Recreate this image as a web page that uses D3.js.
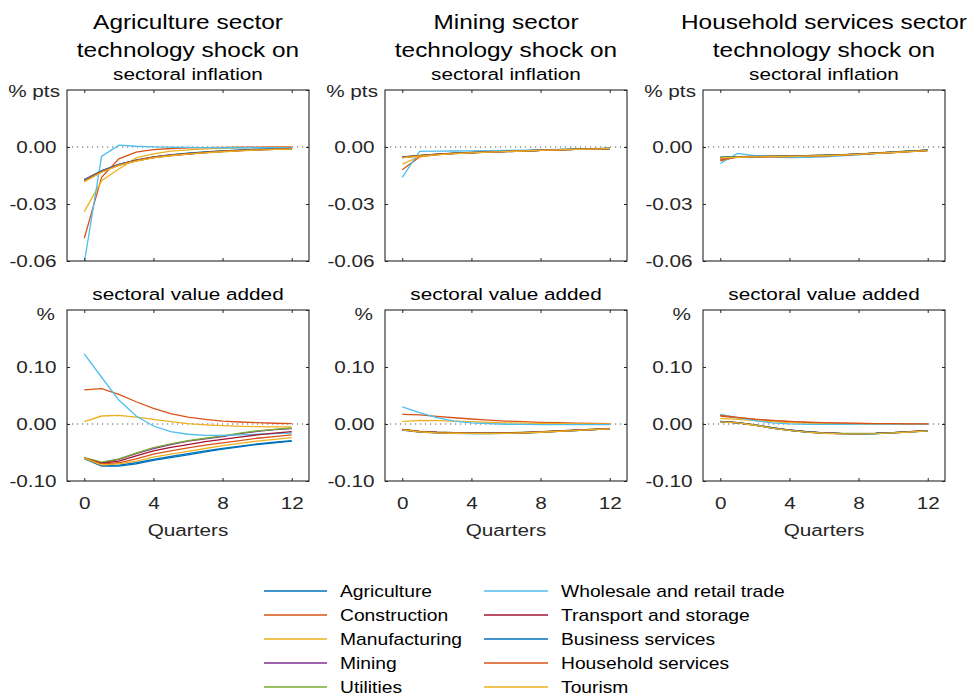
<!DOCTYPE html>
<html>
<head>
<meta charset="utf-8">
<script src="https://cdn.jsdelivr.net/npm/d3@7"></script>
<style>
  body { margin: 0; background: #fff; }
  text { font-family: "Liberation Sans", Arial, Helvetica, sans-serif; fill: #262626; }
</style>
</head>
<body>
<svg id="chart"></svg>
<script>
// ---------------- data ----------------
const quarters = [0,1,2,3,4,5,6,7,8,9,10,11,12];
const sectors = ["Agriculture","Construction","Manufacturing","Mining","Utilities",
  "Wholesale and retail trade","Transport and storage","Business services","Household services","Tourism"];
const colors = ["#0072BD","#D95319","#EDB120","#7E2F8E","#77AC30","#4DBEEE","#A2142F","#0072BD","#D95319","#EDB120"];
const shocks = ["Agriculture sector","Mining sector","Household services sector"];
const xTicks = [0,4,8,12];
const inflTicks = [-0.06,-0.03,0,0.03];
const vaTicks = [-0.1,0,0.1,0.2];

// inflation responses (% pts), one row per sector
const infAgri = [
  [-0.0178,-0.0130,-0.0095,-0.0072,-0.0055,-0.0044,-0.0036,-0.0029,-0.0023,-0.0019,-0.0015,-0.0012,-0.0010],
  [-0.0480,-0.0160,-0.0062,-0.0027,-0.0014,-0.0008,-0.0005,-0.0003,-0.0002,-0.0001,-0.0001,0.0000,0.0000],
  [-0.0340,-0.0178,-0.0116,-0.0057,-0.0036,-0.0022,-0.0015,-0.0010,-0.0007,-0.0005,-0.0003,-0.0002,-0.0001],
  [-0.0172,-0.0126,-0.0092,-0.0070,-0.0053,-0.0042,-0.0035,-0.0028,-0.0022,-0.0018,-0.0014,-0.0011,-0.0009],
  [-0.0176,-0.0127,-0.0093,-0.0070,-0.0053,-0.0042,-0.0034,-0.0027,-0.0021,-0.0017,-0.0013,-0.0010,-0.0008],
  [-0.0610,-0.0050,0.0010,0.0004,0.0001,-0.0001,-0.0002,-0.0003,-0.0004,-0.0004,-0.0004,-0.0004,-0.0004],
  [-0.0180,-0.0131,-0.0096,-0.0073,-0.0056,-0.0045,-0.0037,-0.0030,-0.0024,-0.0019,-0.0015,-0.0012,-0.0010],
  [-0.0174,-0.0125,-0.0091,-0.0069,-0.0052,-0.0041,-0.0033,-0.0026,-0.0020,-0.0016,-0.0012,-0.0010,-0.0008],
  [-0.0178,-0.0129,-0.0094,-0.0071,-0.0054,-0.0043,-0.0035,-0.0028,-0.0022,-0.0018,-0.0014,-0.0011,-0.0009],
  [-0.0182,-0.0133,-0.0097,-0.0074,-0.0057,-0.0046,-0.0038,-0.0031,-0.0025,-0.0020,-0.0016,-0.0013,-0.0011]
];
const infMin = [
  [-0.0055,-0.0046,-0.0039,-0.0034,-0.0030,-0.0027,-0.0024,-0.0021,-0.0018,-0.0015,-0.0013,-0.0011,-0.0009],
  [-0.0120,-0.0052,-0.0040,-0.0034,-0.0030,-0.0026,-0.0023,-0.0020,-0.0017,-0.0014,-0.0012,-0.0010,-0.0008],
  [-0.0090,-0.0050,-0.0040,-0.0034,-0.0029,-0.0026,-0.0023,-0.0020,-0.0017,-0.0014,-0.0012,-0.0010,-0.0008],
  [-0.0052,-0.0045,-0.0038,-0.0033,-0.0029,-0.0026,-0.0023,-0.0020,-0.0017,-0.0014,-0.0012,-0.0010,-0.0008],
  [-0.0053,-0.0044,-0.0038,-0.0033,-0.0029,-0.0025,-0.0022,-0.0019,-0.0016,-0.0014,-0.0011,-0.0009,-0.0008],
  [-0.0160,-0.0023,-0.0022,-0.0021,-0.0020,-0.0019,-0.0018,-0.0016,-0.0015,-0.0013,-0.0011,-0.0009,-0.0008],
  [-0.0056,-0.0047,-0.0040,-0.0035,-0.0031,-0.0027,-0.0024,-0.0021,-0.0018,-0.0015,-0.0013,-0.0011,-0.0009],
  [-0.0054,-0.0045,-0.0039,-0.0034,-0.0030,-0.0026,-0.0023,-0.0020,-0.0017,-0.0014,-0.0012,-0.0010,-0.0008],
  [-0.0055,-0.0046,-0.0039,-0.0034,-0.0030,-0.0026,-0.0023,-0.0020,-0.0017,-0.0015,-0.0012,-0.0010,-0.0009],
  [-0.0057,-0.0048,-0.0041,-0.0035,-0.0031,-0.0027,-0.0024,-0.0021,-0.0018,-0.0015,-0.0013,-0.0011,-0.0009]
];
const infHou = [
  [-0.0056,-0.0053,-0.0051,-0.0050,-0.0049,-0.0047,-0.0045,-0.0042,-0.0038,-0.0033,-0.0028,-0.0023,-0.0018],
  [-0.0073,-0.0052,-0.0050,-0.0049,-0.0048,-0.0046,-0.0044,-0.0041,-0.0037,-0.0032,-0.0027,-0.0022,-0.0017],
  [-0.0065,-0.0051,-0.0050,-0.0049,-0.0048,-0.0046,-0.0044,-0.0041,-0.0037,-0.0032,-0.0027,-0.0022,-0.0017],
  [-0.0055,-0.0052,-0.0050,-0.0049,-0.0048,-0.0046,-0.0044,-0.0041,-0.0037,-0.0032,-0.0027,-0.0022,-0.0017],
  [-0.0054,-0.0051,-0.0049,-0.0048,-0.0047,-0.0045,-0.0043,-0.0040,-0.0036,-0.0031,-0.0026,-0.0021,-0.0016],
  [-0.0087,-0.0034,-0.0045,-0.0052,-0.0056,-0.0055,-0.0052,-0.0047,-0.0041,-0.0035,-0.0029,-0.0023,-0.0017],
  [-0.0057,-0.0054,-0.0052,-0.0051,-0.0050,-0.0048,-0.0046,-0.0043,-0.0039,-0.0034,-0.0029,-0.0024,-0.0019],
  [-0.0055,-0.0052,-0.0050,-0.0049,-0.0048,-0.0046,-0.0044,-0.0041,-0.0037,-0.0032,-0.0027,-0.0022,-0.0017],
  [-0.0068,-0.0053,-0.0051,-0.0050,-0.0049,-0.0047,-0.0045,-0.0042,-0.0038,-0.0033,-0.0028,-0.0023,-0.0018],
  [-0.0057,-0.0054,-0.0052,-0.0051,-0.0050,-0.0048,-0.0046,-0.0043,-0.0039,-0.0034,-0.0029,-0.0024,-0.0019]
];

// value added responses (%), one row per sector
const vaAgri = [
  [-0.061,-0.074,-0.074,-0.070,-0.064,-0.059,-0.054,-0.049,-0.044,-0.040,-0.036,-0.033,-0.030],
  [0.060,0.062,0.052,0.039,0.0275,0.018,0.012,0.008,0.005,0.0035,0.0023,0.0013,0.0006],
  [0.004,0.014,0.015,0.012,0.008,0.004,0.0006,-0.0015,-0.003,-0.004,-0.0047,-0.005,-0.005],
  [-0.060,-0.068,-0.062,-0.052,-0.043,-0.036,-0.030,-0.026,-0.022,-0.017,-0.013,-0.010,-0.008],
  [-0.059,-0.067,-0.061,-0.051,-0.0415,-0.035,-0.029,-0.025,-0.021,-0.016,-0.012,-0.0095,-0.007],
  [0.123,0.082,0.042,0.014,-0.0035,-0.0135,-0.018,-0.020,-0.020,-0.019,-0.018,-0.017,-0.016],
  [-0.060,-0.069,-0.065,-0.056,-0.047,-0.041,-0.036,-0.031,-0.027,-0.023,-0.019,-0.016,-0.0135],
  [-0.060,-0.073,-0.072,-0.068,-0.062,-0.057,-0.052,-0.047,-0.043,-0.039,-0.035,-0.032,-0.029],
  [-0.060,-0.070,-0.068,-0.061,-0.053,-0.047,-0.042,-0.037,-0.033,-0.029,-0.025,-0.022,-0.019],
  [-0.060,-0.072,-0.070,-0.065,-0.058,-0.053,-0.048,-0.043,-0.038,-0.034,-0.030,-0.027,-0.024]
];
const vaMin = [
  [-0.0105,-0.0140,-0.0155,-0.0163,-0.0167,-0.0168,-0.0166,-0.0158,-0.0145,-0.0130,-0.0115,-0.0100,-0.0087],
  [0.0170,0.0160,0.0135,0.0110,0.0088,0.0068,0.0052,0.0040,0.0030,0.0022,0.0015,0.0010,0.0006],
  [0.0040,0.0065,0.0060,0.0050,0.0040,0.0030,0.0021,0.0015,0.0010,0.0006,0.0003,0.0001,0.0000],
  [-0.0095,-0.0130,-0.0145,-0.0153,-0.0157,-0.0158,-0.0156,-0.0149,-0.0137,-0.0123,-0.0109,-0.0094,-0.0080],
  [-0.0095,-0.0128,-0.0143,-0.0151,-0.0155,-0.0156,-0.0154,-0.0147,-0.0135,-0.0121,-0.0106,-0.0091,-0.0077],
  [0.0300,0.0200,0.0110,0.0050,0.0018,0.0006,-0.0004,-0.0008,-0.0010,-0.0010,-0.0010,-0.0010,-0.0010],
  [-0.0098,-0.0133,-0.0148,-0.0156,-0.0160,-0.0161,-0.0159,-0.0152,-0.0140,-0.0126,-0.0112,-0.0097,-0.0083],
  [-0.0102,-0.0138,-0.0153,-0.0161,-0.0165,-0.0166,-0.0164,-0.0156,-0.0144,-0.0129,-0.0114,-0.0099,-0.0085],
  [-0.0100,-0.0136,-0.0151,-0.0159,-0.0163,-0.0164,-0.0162,-0.0154,-0.0142,-0.0127,-0.0112,-0.0097,-0.0083],
  [-0.0103,-0.0139,-0.0154,-0.0162,-0.0166,-0.0167,-0.0165,-0.0157,-0.0145,-0.0130,-0.0115,-0.0100,-0.0086]
];
const vaHou = [
  [0.0040,0.0020,-0.0020,-0.0070,-0.0110,-0.0140,-0.0160,-0.0170,-0.0172,-0.0167,-0.0155,-0.0138,-0.0120],
  [0.0140,0.0110,0.0080,0.0060,0.0042,0.0030,0.0021,0.0015,0.0010,0.0007,0.0005,0.0003,0.0002],
  [0.0100,0.0080,0.0060,0.0040,0.0025,0.0015,0.0008,0.0003,0.0000,-0.0002,-0.0003,-0.0003,-0.0003],
  [0.0045,0.0024,-0.0016,-0.0066,-0.0106,-0.0136,-0.0156,-0.0166,-0.0168,-0.0163,-0.0151,-0.0134,-0.0116],
  [0.0045,0.0025,-0.0015,-0.0065,-0.0105,-0.0135,-0.0155,-0.0165,-0.0167,-0.0162,-0.0150,-0.0133,-0.0115],
  [0.0170,0.0110,0.0060,0.0020,0.0002,-0.0005,-0.0005,-0.0004,-0.0003,-0.0002,-0.0002,-0.0001,-0.0001],
  [0.0042,0.0022,-0.0018,-0.0068,-0.0108,-0.0138,-0.0158,-0.0168,-0.0170,-0.0165,-0.0153,-0.0136,-0.0118],
  [0.0040,0.0020,-0.0020,-0.0070,-0.0110,-0.0140,-0.0160,-0.0170,-0.0172,-0.0167,-0.0155,-0.0138,-0.0120],
  [0.0150,0.0115,0.0085,0.0062,0.0045,0.0032,0.0023,0.0016,0.0011,0.0008,0.0005,0.0003,0.0002],
  [0.0038,0.0018,-0.0022,-0.0072,-0.0112,-0.0142,-0.0162,-0.0172,-0.0174,-0.0169,-0.0157,-0.0140,-0.0122]
];

// ---------------- layout ----------------
const W = 975, H = 699;
const SX = 1.22;               // the reference text is stretched horizontally
const colX = [67, 385, 703];
const pw = 242;
const rows = [
  {top: 90, bottom: 261, domain: [-0.06, 0.03], ticks: inflTicks, sub: "sectoral inflation", subY: 80,
   unit: "% pts", unitDx: 7, unitY: 97, data: [infAgri, infMin, infHou], xLabels: false},
  {top: 310, bottom: 481, domain: [-0.1, 0.2], ticks: vaTicks, sub: "sectoral value added", subY: 300,
   unit: "%", unitDx: 12, unitY: 320, data: [vaAgri, vaMin, vaHou], xLabels: true}
];

const svg = d3.select("#chart").attr("width", W).attr("height", H);
svg.append("rect").attr("width", W).attr("height", H).attr("fill", "#fff");

function label(sel, x, y, str, size, anchor) {
  return sel.append("text")
    .attr("transform", "translate(" + x + "," + y + ") scale(" + SX + ",1)")
    .attr("text-anchor", anchor || "middle")
    .style("font-size", size + "px")
    .text(str);
}

function styleAxis(g) {
  g.select(".domain").remove();
  g.selectAll(".tick line").attr("stroke", "#262626");
  g.selectAll(".tick text")
    .style("font-size", "17px")
    .attr("fill", "#262626")
    .attr("font-family", "Liberation Sans, Arial, sans-serif");
}

// titles
shocks.forEach(function(s, c) {
  const cx = colX[c] + pw / 2;
  label(svg, cx, 29, s, 20).style("fill", "#000");
  label(svg, cx, 57, "technology shock on", 20).style("fill", "#000");
});

const line = d3.line();

rows.forEach(function(r, ri) {
  colX.forEach(function(x0, c) {
    const xs = d3.scaleLinear().domain([-1, 13]).range([x0, x0 + pw]);
    const ys = d3.scaleLinear().domain(r.domain).range([r.bottom, r.top]);
    const cx = x0 + pw / 2;

    label(svg, cx, r.subY, r.sub, 17).style("fill", "#000");

    const clipId = "clip" + ri + c;
    svg.append("clipPath").attr("id", clipId)
      .append("rect").attr("x", x0).attr("y", r.top)
      .attr("width", pw).attr("height", r.bottom - r.top);

    // zero reference line
    svg.append("line")
      .attr("x1", x0).attr("x2", x0 + pw)
      .attr("y1", ys(0)).attr("y2", ys(0))
      .attr("stroke", "#555").attr("stroke-width", 1)
      .attr("stroke-dasharray", "1.2,3.8");

    // response lines
    const g = svg.append("g").attr("clip-path", "url(#" + clipId + ")");
    r.data[c].forEach(function(vals, si) {
      g.append("path")
        .datum(quarters.map((q, i) => [xs(q), ys(vals[i])]))
        .attr("fill", "none")
        .attr("stroke", colors[si])
        .attr("stroke-width", 1.3)
        .attr("d", line);
    });

    // axes with inward ticks on all sides
    svg.append("g").attr("transform", "translate(" + x0 + ",0)")
      .call(d3.axisLeft(ys).tickValues(r.ticks.filter(t => t < r.domain[1]))
        .tickSize(-3).tickPadding(8.5).tickFormat(d => d.toFixed(2)))
      .call(styleAxis)
      .selectAll(".tick text").attr("transform", "scale(" + SX + ",1)");
    svg.append("g").attr("transform", "translate(" + (x0 + pw) + ",0)")
      .call(d3.axisRight(ys).tickValues(r.ticks).tickSize(-3).tickFormat(""))
      .call(styleAxis);
    svg.append("g").attr("transform", "translate(0," + r.top + ")")
      .call(d3.axisTop(xs).tickValues(xTicks).tickSize(-3).tickFormat(""))
      .call(styleAxis);
    const xb = svg.append("g").attr("transform", "translate(0," + r.bottom + ")")
      .call(d3.axisBottom(xs).tickValues(xTicks).tickSize(-3).tickPadding(16)
        .tickFormat(r.xLabels ? d3.format("d") : ""))
      .call(styleAxis);
    xb.selectAll(".tick text").attr("transform", "scale(" + SX + ",1)");

    // box
    svg.append("rect")
      .attr("x", x0).attr("y", r.top)
      .attr("width", pw).attr("height", r.bottom - r.top)
      .attr("fill", "none").attr("stroke", "#262626").attr("stroke-width", 1.1);

    label(svg, x0 - r.unitDx, r.unitY, r.unit, 17, "end");
    if (r.xLabels) label(svg, cx, 536, "Quarters", 17);
  });
});

// ---------------- legend ----------------
const legCols = [{x1: 264, x2: 327, tx: 340}, {x1: 484, x2: 548, tx: 561}];
sectors.forEach(function(s, i) {
  const col = legCols[Math.floor(i / 5)];
  const y = 591 + (i % 5) * 24;
  svg.append("line")
    .attr("x1", col.x1).attr("x2", col.x2).attr("y1", y).attr("y2", y)
    .attr("stroke", colors[i]).attr("stroke-width", 1.3);
  label(svg, col.tx, y + 6, s, 15.8, "start").style("fill", "#000");
});
</script>
</body>
</html>
